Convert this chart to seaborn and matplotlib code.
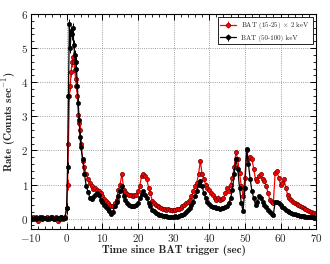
import numpy as np
import pandas as pd
import seaborn as sns
import matplotlib.pyplot as plt
from matplotlib.lines import Line2D
from matplotlib.ticker import MultipleLocator

# time bins (sec since BAT trigger)
t_pre = np.arange(-10, 0, 0.5)
t_spike = np.arange(0, 4.01, 0.25)
t_tail = np.arange(4.5, 70.01, 0.5)
time_sec = np.concatenate([t_pre, t_spike, t_tail])

# BAT 50-100 keV
hard_pre = [0.02, -0.01, 0.03, 0.0, 0.02, 0.04, -0.02, 0.01, 0.03, 0.0,
            0.02, 0.05, 0.01, -0.01, 0.03, 0.02, 0.0, 0.04, 0.01, 0.03]
hard_spike = [0.3, 1.5, 3.6, 5.7, 5.0, 5.5, 5.4, 5.6, 5.1, 4.8, 4.6, 4.4, 3.9, 3.4, 2.9, 2.4, 2.1]
hard_tail = [1.75, 1.3, 0.95, 0.78, 0.62, 0.58, 0.64, 0.7, 0.75, 0.68,
             0.56, 0.48, 0.41, 0.34, 0.28, 0.22, 0.14, 0.2, 0.36, 0.5,
             0.66, 0.8, 0.95, 0.66, 0.55, 0.45, 0.4, 0.36, 0.36, 0.38,
             0.4, 0.45, 0.6, 0.72, 0.8, 0.7, 0.6, 0.45, 0.38, 0.26,
             0.22, 0.17, 0.13, 0.12, 0.1, 0.09, 0.08, 0.07, 0.06, 0.05,
             0.06, 0.05, 0.07, 0.06, 0.08, 0.1, 0.12, 0.15, 0.2, 0.26,
             0.3, 0.4, 0.5, 0.65, 0.8, 1.0, 1.1, 0.95, 0.75, 0.6,
             0.5, 0.42, 0.38, 0.35, 0.33, 0.3, 0.3, 0.28, 0.3, 0.3,
             0.33, 0.38, 0.45, 0.6, 0.85, 1.3, 1.75, 1.45, 0.9, 0.45,
             0.22, 0.9, 2.05, 1.6, 1.15, 0.8, 0.6, 0.4, 0.5, 0.66,
             0.62, 0.5, 0.41, 0.35, 0.25, 0.2, 0.15, 0.12, 0.5, 0.48,
             0.45, 0.4, 0.35, 0.3, 0.25, 0.22, 0.2, 0.17, 0.15, 0.13,
             0.12, 0.1, 0.09, 0.08, 0.07, 0.06, 0.05, 0.05, 0.04, 0.04,
             0.03, 0.02]

# BAT 15-25 keV x 2
soft_pre = [0.0, 0.04, 0.02, 0.05, -0.08, 0.03, 0.06, 0.01, 0.02, 0.05,
            0.0, 0.03, 0.04, -0.02, 0.06, -0.07, 0.02, 0.05, -0.01, 0.04]
soft_spike = [0.3, 1.0, 2.2, 3.6, 3.9, 4.3, 4.6, 4.75, 4.6, 4.35, 4.1, 3.9, 3.6, 3.05, 2.8, 2.6, 2.2]
soft_tail = [1.7, 1.5, 1.3, 1.15, 1.05, 0.95, 0.88, 0.9, 0.85, 0.8,
             0.75, 0.66, 0.58, 0.51, 0.45, 0.41, 0.38, 0.36, 0.45, 0.56,
             0.85, 1.0, 1.32, 0.85, 0.78, 0.72, 0.7, 0.68, 0.66, 0.68,
             0.7, 0.8, 0.95, 1.24, 1.3, 1.25, 1.15, 0.9, 0.75, 0.52,
             0.45, 0.4, 0.36, 0.33, 0.3, 0.28, 0.29, 0.26, 0.27, 0.25,
             0.24, 0.26, 0.25, 0.27, 0.28, 0.3, 0.36, 0.4, 0.45, 0.5,
             0.55, 0.65, 0.8, 0.95, 1.05, 1.3, 1.7, 1.3, 1.15, 1.0,
             0.9, 0.85, 0.75, 0.7, 0.6, 0.55, 0.62, 0.55, 0.58, 0.6,
             0.75, 0.9, 0.8, 1.0, 1.2, 1.5, 1.95, 1.75, 1.35, 0.95,
             0.65, 1.2, 2.0, 1.75, 1.8, 1.74, 1.45, 1.15, 1.1, 1.25,
             1.3, 1.15, 1.1, 0.95, 0.75, 0.55, 0.5, 0.47, 1.35, 1.4,
             1.2, 1.0, 1.05, 1.15, 0.9, 0.7, 0.62, 0.55, 0.5, 0.45,
             0.42, 0.4, 0.36, 0.33, 0.3, 0.28, 0.25, 0.22, 0.2, 0.18,
             0.17, 0.15]

# rough 1-sigma errors per segment (pre, spike, tail)
hard_err = [0.04, 0.15, 0.05]
soft_err = [0.05, 0.15, 0.06]

labels = ['BAT (15-25) $\\times$ 2 keV', 'BAT (50-100) keV']
colors = ['red', 'black']
edges = ['#6a0000', 'black']

soft = np.concatenate([soft_pre, soft_spike, soft_tail])
hard = np.concatenate([hard_pre, hard_spike, hard_tail])
n = [len(t_pre), len(t_spike), len(t_tail)]
soft_e = np.repeat(soft_err, n)
hard_e = np.repeat(hard_err, n)

df = pd.DataFrame({
    'time': np.concatenate([time_sec, time_sec]),
    'rate': np.concatenate([soft, hard]),
    'err': np.concatenate([soft_e, hard_e]),
    'band': [labels[0]] * len(time_sec) + [labels[1]] * len(time_sec),
})

sns.set_style('ticks')
plt.rcParams['font.family'] = ['cmr10', 'DejaVu Serif']
plt.rcParams['mathtext.fontset'] = 'cm'
plt.rcParams['axes.formatter.use_mathtext'] = True

fig = plt.figure(figsize=(3.3, 2.64), dpi=100)
ax = fig.add_axes([0.094, 0.133, 0.864, 0.814])

handles = []
for lab, col, edg in zip(labels, colors, edges):
    sub = df[df['band'] == lab]
    eb = ax.errorbar(sub['time'], sub['rate'], yerr=sub['err'], fmt='none',
                     ecolor=col, elinewidth=0.7, capsize=0)
    sns.lineplot(data=sub, x='time', y='rate', color=col, marker='o', markersize=3,
                 markeredgecolor=edg, markeredgewidth=0.5, linewidth=0.9,
                 estimator=None, sort=False, legend=False, ax=ax)
    mk = Line2D([], [], color=col, marker='o', markersize=3, markeredgecolor=edg,
                markeredgewidth=0.5, linewidth=0.9)
    handles.append((eb, mk))

ax.set_xlim(-10, 70)
ax.set_ylim(-0.3, 6)
ax.xaxis.set_major_locator(MultipleLocator(10))
ax.xaxis.set_minor_locator(MultipleLocator(2))
ax.yaxis.set_major_locator(MultipleLocator(1))
ax.yaxis.set_minor_locator(MultipleLocator(0.2))
ax.tick_params(which='both', direction='in', top=True, right=True, labelsize=8,
               color='black', pad=2)
ax.tick_params(which='major', length=4, width=0.7)
ax.tick_params(which='minor', length=2, width=0.6)
ax.grid(True, which='major', linestyle=':', color='gray', linewidth=0.6)
for s in ax.spines.values():
    s.set_color('black')
    s.set_linewidth(0.8)

ax.set_xlabel('Time since BAT trigger (sec)', fontfamily='cmb10', fontsize=8, labelpad=1)
ax.set_ylabel('Rate (Counts sec$^{-1}$)', fontfamily='cmb10', fontsize=8, labelpad=2)

leg = ax.legend(handles, labels, loc='upper right', fontsize=5, fancybox=False,
                framealpha=1, edgecolor='black', handlelength=2.2, borderpad=0.4,
                labelspacing=0.5)
leg.get_frame().set_linewidth(0.6)

fig.savefig('out.png', dpi=100)
